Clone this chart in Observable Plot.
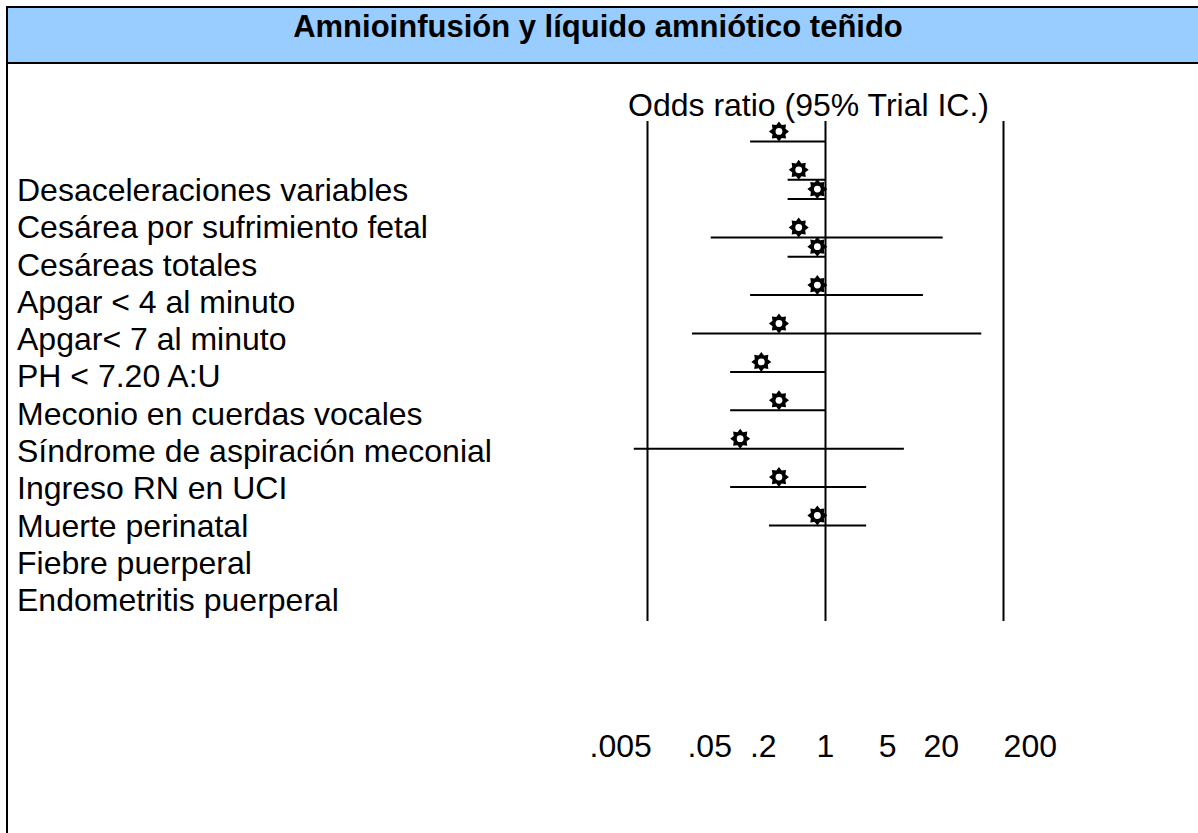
<!DOCTYPE html>
<html>
<head>
<meta charset="utf-8">
<script src="https://cdn.jsdelivr.net/npm/d3@7"></script>
<script src="https://cdn.jsdelivr.net/npm/@observablehq/plot@0.6"></script>
<style>
  html, body { margin: 0; padding: 0; background: #fff; }
  body { width: 1198px; height: 833px; position: relative; overflow: hidden;
         font-family: "Liberation Sans", Arial, Helvetica, sans-serif; color: #000; }
  #frame { position: absolute; left: 6px; top: 6px; right: 0; bottom: 0;
           border-left: 2px solid #000; border-top: 2px solid #000; }
  #header { position: absolute; left: 8px; top: 8px; right: 0; height: 54px;
            background: #99ccff; border-bottom: 2px solid #000; }
  #title { position: absolute; left: 0; right: 10px; top: 3px; text-align: center;
           font-weight: bold; font-size: 31px; line-height: 31px; white-space: nowrap; }
  #subtitle { position: absolute; left: 628px; top: 89px; font-size: 32px; line-height: 32px;
              white-space: nowrap; }
  #labels { position: absolute; left: 17px; top: 172px; font-size: 32px; line-height: 37.3px;
            white-space: nowrap; }
  #chart { position: absolute; left: 0; top: 64px; }
</style>
</head>
<body>
<div id="frame"></div>
<div id="header"><div id="title">Amnioinfusión y líquido amniótico teñido</div></div>
<div id="subtitle">Odds ratio (95% Trial IC.)</div>
<div id="chart"></div>
<div id="labels"></div>
<script>
// Outcome labels (listed on the left)
const outcomes = [
  "Desaceleraciones variables",
  "Cesárea por sufrimiento fetal",
  "Cesáreas totales",
  "Apgar < 4 al minuto",
  "Apgar< 7 al minuto",
  "PH < 7.20 A:U",
  "Meconio en cuerdas vocales",
  "Síndrome de aspiración meconial",
  "Ingreso RN en UCI",
  "Muerte perinatal",
  "Fiebre puerperal",
  "Endometritis puerperal"
];
// Row position of each estimate line (in row units, as drawn in the picture)
const rowPos   = [0, 1, 1.5, 2.5, 3, 4, 5, 6, 7, 8, 9, 10];
// Odds ratio point estimates and 95% CI bounds
const orValues = [0.30, 0.50, 0.81, 0.50, 0.81, 0.81, 0.30, 0.19, 0.30, 0.11, 0.30, 0.81];
const ciLower  = [0.144, 0.38, 0.38, 0.052, 0.38, 0.144, 0.032, 0.086, 0.086, 0.0071, 0.086, 0.235];
const ciUpper  = [1, 1, 1, 21, 1, 12.6, 57, 1, 1, 7.7, 2.9, 2.9];
// Vertical reference lines
const refLines = [0.01, 1, 100];
// Axis ticks
const tickValues = [0.005, 0.05, 0.2, 1, 5, 20, 200];
const tickLabels = [".005", ".05", ".2", "1", "5", "20", "200"];

const rows = rowPos.map((r, i) => ({row: r, or: orValues[i], lo: ciLower[i], hi: ciUpper[i]}));
const ticks = tickValues.map((v, i) => ({value: v, label: tickLabels[i]}));

// outcome list (text)
const labelsDiv = document.getElementById("labels");
outcomes.forEach(t => {
  const div = document.createElement("div");
  div.textContent = t;
  labelsDiv.appendChild(div);
});

// sun-like 8-pointed star symbol
const star = {
  draw(context, size) {
    const R = Math.sqrt(size / Math.PI);
    const r = R * 0.7;
    for (let k = 0; k < 16; k++) {
      const a = k * Math.PI / 8 - Math.PI / 2;
      const rad = k % 2 === 0 ? R : r;
      const x = rad * Math.cos(a), y = rad * Math.sin(a);
      if (k === 0) context.moveTo(x, y); else context.lineTo(x, y);
    }
    context.closePath();
  }
};

const chart = Plot.plot({
  width: 1198,
  height: 769,
  marginTop: 57,
  marginBottom: 212,
  marginLeft: 17,
  marginRight: 0,
  style: {background: "transparent", color: "#000", fontSize: "32px",
          fontFamily: "'Liberation Sans', Arial, Helvetica, sans-serif"},
  x: {type: "log", domain: [0.01, 100], range: [647, 1003], axis: null},
  y: {domain: [-0.52, 12.5], reverse: true, axis: null},
  marks: [
    Plot.ruleX(refLines, {x: d => d, stroke: "#000", strokeWidth: 2}),
    Plot.ruleY(rows, {y: "row", x1: "lo", x2: "hi", stroke: "#000", strokeWidth: 2}),
    Plot.dot(rows, {x: "or", y: "row", dy: -10, symbol: star, r: 10, fill: "#000", stroke: "none"}),
    Plot.dot(rows, {x: "or", y: "row", dy: -10, r: 3.4, fill: "#fff", stroke: "none"}),
    Plot.text(ticks, {x: "value", text: "label", frameAnchor: "bottom", lineAnchor: "top",
                      dy: 113, fill: "#000", fontSize: 32})
  ]
});
document.getElementById("chart").appendChild(chart);
</script>
</body>
</html>
